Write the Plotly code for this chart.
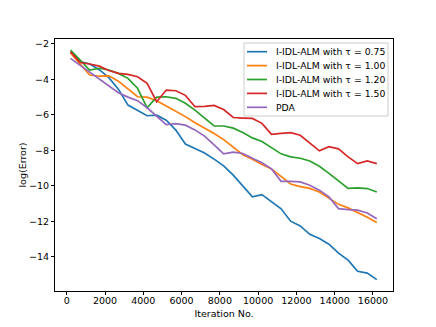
import plotly.graph_objects as go

# iteration counts (every 500, starting at 200)
iteraciones = list(range(200, 16201, 500))

tau_075 = [-2.43, -3.0, -3.13, -3.45, -3.9, -4.55, -5.45, -5.73, -6.05, -6.02,
           -6.3, -6.86, -7.65, -7.9, -8.15, -8.5, -8.88, -9.4, -10.0, -10.63,
           -10.5, -10.9, -11.3, -12.0, -12.27, -12.74, -12.98, -13.3, -13.8,
           -14.2, -14.83, -14.93, -15.3]

tau_100 = [-2.5, -3.1, -3.75, -3.82, -3.8, -4.1, -4.55, -4.98, -5.0, -5.2,
           -5.5, -5.8, -6.1, -6.45, -6.75, -7.05, -7.4, -7.8, -8.25, -8.5,
           -8.8, -9.05, -9.5, -9.9, -10.05, -10.15, -10.35, -10.7, -11.05,
           -11.25, -11.5, -11.78, -12.08]

tau_120 = [-2.35, -2.9, -3.47, -3.37, -3.47, -3.66, -3.94, -4.5, -5.6, -5.0,
           -4.98, -5.07, -5.35, -5.73, -6.2, -6.63, -6.63, -6.75, -7.0, -7.3,
           -7.5, -7.85, -8.2, -8.37, -8.45, -8.6, -8.9, -9.3, -9.75, -10.15,
           -10.12, -10.16, -10.35]

tau_150 = [-2.45, -3.05, -3.13, -3.25, -3.5, -3.66, -3.72, -3.85, -4.22, -5.26,
           -4.6, -4.64, -4.9, -5.54, -5.52, -5.47, -5.7, -6.15, -6.18, -6.2,
           -6.48, -7.1, -7.05, -7.0, -7.15, -7.6, -8.03, -7.8, -7.92, -8.37,
           -8.75, -8.6, -8.75]

pda = [-2.81, -3.2, -3.55, -3.98, -4.35, -4.75, -5.0, -5.2, -5.6, -6.1,
       -6.55, -6.5, -6.58, -6.85, -7.2, -7.7, -8.2, -8.1, -8.18, -8.45,
       -8.7, -9.05, -9.75, -9.75, -9.78, -9.97, -10.25, -10.63, -11.29,
       -11.35, -11.38, -11.54, -11.86]

x_ticks = list(range(0, 16001, 2000))
y_ticks = [-2, -4, -6, -8, -10, -12, -14]

series = [
    ("I-IDL-ALM with τ = 0.75", tau_075, "#1f77b4"),
    ("I-IDL-ALM with τ = 1.00", tau_100, "#ff7f0e"),
    ("I-IDL-ALM with τ = 1.20", tau_120, "#2ca02c"),
    ("I-IDL-ALM with τ = 1.50", tau_150, "#d62728"),
    ("PDA", pda, "#9467bd"),
]

# the page body has an 8 px default margin, so the figure is drawn 8 px in
BORDE = 8
ANCHO, ALTO = 436 - BORDE, 327 - BORDE

# plot area in window pixels (matplotlib-like layout)
IZQ, DER, ARR, ABA = 55, 393, 39, 291


def px_a_paper(px, py):
    return (px - IZQ) / (DER - IZQ), (ABA - py) / (ABA - ARR)


fig = go.Figure()

for nombre, valores, color in series:
    fig.add_trace(go.Scatter(
        x=iteraciones,
        y=valores,
        mode="lines",
        name=nombre,
        showlegend=False,
        line=dict(color=color, width=1.7)
    ))

# ── leyenda estilo matplotlib (alto de fila ~14 px) ──────────────

x0, y0 = px_a_paper(244, 116)
x1, y1 = px_a_paper(388, 43)
fig.add_shape(type="rect", xref="paper", yref="paper", x0=x0, y0=y0, x1=x1, y1=y1,
              line=dict(color="#cccccc", width=1), fillcolor="rgba(255,255,255,0.8)",
              layer="above")

for i, (nombre, valores, color) in enumerate(series):
    fila = 51.7 + i * 13.9
    lx0, ly = px_a_paper(247, fila)
    lx1, _ = px_a_paper(267, fila)
    tx, _ = px_a_paper(274, fila)
    fig.add_shape(type="line", xref="paper", yref="paper", x0=lx0, y0=ly, x1=lx1, y1=ly,
                  line=dict(color=color, width=1.7), layer="above")
    fig.add_annotation(x=tx, y=ly, xref="paper", yref="paper", text=nombre,
                       showarrow=False, xanchor="left", yanchor="middle",
                       font=dict(size=9.3, color="black"))

eje = dict(
    showline=True,
    linecolor="black",
    linewidth=1,
    mirror=True,
    showgrid=False,
    zeroline=False,
    automargin=False,
    ticks="outside",
    ticklen=3,
    tickcolor="black",
    tickfont=dict(size=9.5, color="black"),
)

fig.update_layout(
    width=ANCHO,
    height=ALTO,
    margin=dict(l=IZQ - BORDE, r=ANCHO + BORDE - DER, t=ARR - BORDE, b=ALTO + BORDE - ABA),
    plot_bgcolor="white",
    paper_bgcolor="white",
    showlegend=False,
    font=dict(family="DejaVu Sans", size=9.5, color="black"),
    xaxis=dict(eje, range=[-612, 17046], tickvals=x_ticks,
               ticktext=[str(v) for v in x_ticks], ticklabelstandoff=-2,
               title=dict(text="Iteration No.", standoff=4, font=dict(size=9.5))),
    yaxis=dict(eje, range=[-15.94, -1.72], tickvals=y_ticks,
               ticktext=["−" + str(-v) for v in y_ticks],
               title=dict(text="log(Error)", standoff=0, font=dict(size=9.5))),
)

fig.write_html("out.html")
